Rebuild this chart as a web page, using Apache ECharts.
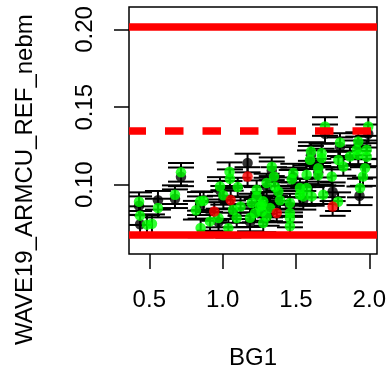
<!DOCTYPE html>
<html>
<head>
<meta charset="utf-8">
<script src="https://cdn.jsdelivr.net/npm/echarts@6/dist/echarts.min.js"></script>
<style>
html,body{margin:0;padding:0;background:#fff;}
#chart{width:389px;height:382px;}
</style>
</head>
<body>
<div id="chart"></div>
<script>
// ---- data ----
const xTicks = [0.5, 1.0, 1.5, 2.0];
const yTicks = [0.10, 0.15, 0.20];

const greenX = [0.430,0.559,0.716,0.675,0.437,0.484,0.518,1.047,1.050,0.982,1.103,1.005,0.846,0.870,0.818,1.071,1.122,0.914,0.972,0.850,1.039,1.096,1.187,1.221,1.266,1.323,1.277,1.335,1.350,1.300,1.357,1.380,1.232,1.232,1.277,1.255,1.198,1.391,1.459,1.482,1.471,1.459,1.459,1.459,1.550,1.607,1.527,1.573,1.686,1.573,1.652,1.652,1.602,1.675,1.596,1.675,1.744,1.789,1.823,1.800,1.698,1.993,1.925,1.914,1.982,1.982,1.868,1.925,1.971,1.957,1.937,1.787,1.527,1.300,1.266];
const greenY = [0.0891,0.0850,0.1080,0.0936,0.0801,0.0743,0.0749,0.1084,0.1039,0.0989,0.0985,0.0932,0.0893,0.0897,0.0836,0.0839,0.0860,0.0764,0.0786,0.0722,0.0720,0.0786,0.0788,0.0818,0.0828,0.0850,0.0754,0.1116,0.1053,0.1011,0.0987,0.0957,0.0968,0.0925,0.0893,0.0860,0.0882,0.0900,0.0882,0.1075,0.1035,0.0818,0.0786,0.0733,0.0925,0.0925,0.0979,0.0979,0.0936,0.1064,0.1107,0.1061,0.1214,0.1204,0.1161,0.1172,0.1053,0.1159,0.1118,0.1272,0.1375,0.1375,0.1278,0.1225,0.1225,0.1180,0.1182,0.1193,0.1107,0.1053,0.0979,0.0891,0.0936,0.0796,0.0871];

const blackX = [0.559,0.716,0.675,0.437,1.170,1.698,1.993,1.933,1.750,0.430,1.335,1.482,1.652,1.602,1.800,1.925,0.846,0.972,1.187,1.323,1.380,1.459,1.550,1.300,0.982,1.005,1.071];
const blackY = [0.0900,0.1051,0.0910,0.0746,0.1140,0.1328,0.1328,0.0929,0.0955,0.0865,0.1090,0.1050,0.1080,0.1190,0.1245,0.1250,0.0865,0.0760,0.0760,0.0825,0.0930,0.0860,0.0900,0.0985,0.0965,0.0905,0.0815];

const redX = [1.170,1.055,0.943,1.369,1.750];
const redY = [0.1053,0.0902,0.0828,0.0818,0.0860];

const errHalf = 0.006;          // estimated half-length of the error bars
const refUpper = 0.2021;
const refLower = 0.0675;
const refDashed = 0.1347;

// ---- build ----
const zip = (xs, ys) => xs.map((x, i) => [x, ys[i]]);
const blackPts = zip(blackX, blackY);
const greenPts = zip(greenX, greenY);
const redPts = zip(redX, redY);
const errData = blackPts.concat(greenPts, redPts).map(p => [p[0], p[1], errHalf]);

const FONT = '"Liberation Sans", Arial, Helvetica, sans-serif';
const FS = 24;

const chart = echarts.init(document.getElementById('chart'), null, {renderer: 'canvas'});

chart.setOption({
  animation: false,
  backgroundColor: '#fff',
  grid: {left: 129, top: 7, width: 248, height: 247, show: true, borderColor: '#000', borderWidth: 1.5, backgroundColor: 'transparent'},
  xAxis: {
    type: 'value', min: 0.3616, max: 2.0525,
    axisLine: {show: false},
    splitLine: {show: false},
    axisTick: {show: true, customValues: xTicks, length: 15, inside: false, lineStyle: {color: '#000', width: 1.5}},
    axisLabel: {customValues: xTicks, formatter: v => v.toFixed(1), fontSize: FS, fontFamily: FONT, color: '#000', margin: 34},
    name: 'BG1', nameLocation: 'middle', nameGap: 92,
    nameTextStyle: {fontSize: FS, fontFamily: FONT, color: '#000'}
  },
  yAxis: {
    type: 'value', min: 0.0554, max: 0.2145,
    axisLine: {show: false},
    splitLine: {show: false},
    axisTick: {show: true, customValues: yTicks, length: 15, lineStyle: {color: '#000', width: 1.5}},
    axisLabel: {customValues: yTicks, formatter: v => v.toFixed(2), rotate: 90, fontSize: FS, fontFamily: FONT, color: '#000', margin: 32}
  },
  graphic: [{
    type: 'text', x: 25, y: 345, rotation: Math.PI / 2,
    style: {text: 'WAVE19_ARMCU_REF_nebm', fontSize: FS, fontFamily: FONT, fill: '#000', align: 'left', verticalAlign: 'middle'}
  }],
  series: [
    {
      type: 'custom', data: errData, clip: true, z: 1,
      renderItem: function (params, api) {
        const x = api.value(0), y = api.value(1), e = api.value(2);
        const t = api.coord([x, y + e]);
        const b = api.coord([x, y - e]);
        const w = 13;
        const st = {stroke: '#000', lineWidth: 2};
        return {type: 'group', children: [
          {type: 'line', shape: {x1: t[0], y1: t[1], x2: b[0], y2: b[1]}, style: st},
          {type: 'line', shape: {x1: t[0] - w, y1: t[1], x2: t[0] + w, y2: t[1]}, style: st},
          {type: 'line', shape: {x1: b[0] - w, y1: b[1], x2: b[0] + w, y2: b[1]}, style: st}
        ]};
      }
    },
    {type: 'scatter', data: blackPts, symbolSize: 10.5, itemStyle: {color: '#000'}, z: 2},
    {type: 'scatter', data: greenPts, symbolSize: 10.5, itemStyle: {color: '#00ff00'}, z: 3},
    {type: 'scatter', data: redPts, symbolSize: 10.5, itemStyle: {color: '#ff0000'}, z: 4,
      markLine: {
        silent: true, symbol: ['none', 'none'], label: {show: false}, z: 10, precision: 4,
        data: [
          {yAxis: refUpper, lineStyle: {color: '#ff0000', width: 7.5, type: 'solid'}},
          {yAxis: refLower, lineStyle: {color: '#ff0000', width: 7.5, type: 'solid'}},
          {yAxis: refDashed, lineStyle: {color: '#ff0000', width: 7.5, type: [18.5, 19], dashOffset: 1.5}}
        ]
      }
    }
  ]
});
</script>
</body>
</html>
